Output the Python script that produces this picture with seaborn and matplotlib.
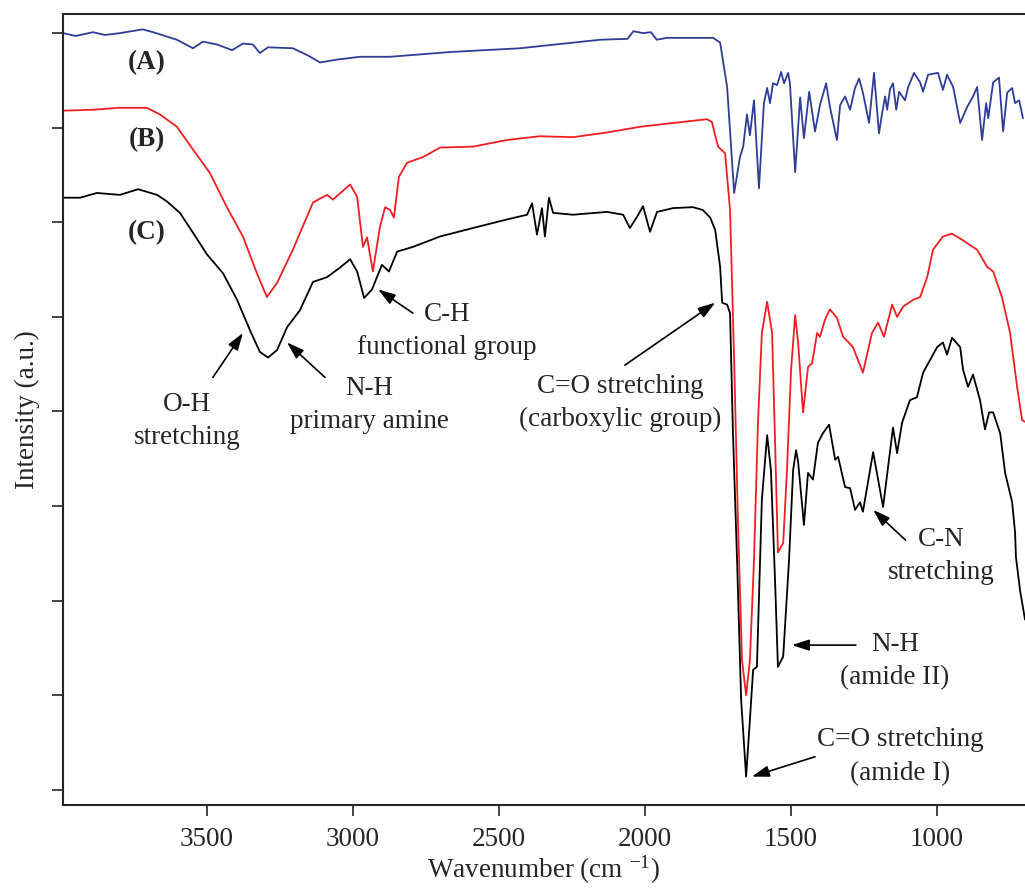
"""
FTIR spectra of samples (A), (B) and (C) with band assignments.
"""
import matplotlib
matplotlib.use("Agg")
import matplotlib.pyplot as plt
import seaborn as sns

sns.set_style("ticks")
plt.rcParams.update({
    "font.family": ["Liberation Serif", "DejaVu Serif"],
    "mathtext.fontset": "stix",
    "font.size": 19,
})

# ---- spectrum (A), blue
wn_a = [3993, 3950, 3890, 3850, 3798, 3720, 3685, 3603, 3548, 3514, 3466, 3414,
        3377, 3343, 3319, 3291, 3206, 3158, 3113, 3055, 2976, 2873, 2668, 2428,
        2154, 2060, 2040, 2007, 1980, 1960, 1925, 1767, 1743, 1719, 1695, 1675,
        1664, 1651, 1641, 1627, 1610, 1593, 1582, 1572, 1562, 1548, 1534, 1524,
        1510, 1504, 1486, 1469, 1456, 1438, 1418, 1401, 1380, 1367, 1343, 1332,
        1315, 1298, 1281, 1267, 1254, 1233, 1216, 1199, 1188, 1178, 1171, 1161,
        1151, 1140, 1130, 1110, 1099, 1079, 1058, 1048, 1031, 997, 980, 966, 945,
        921, 897, 877, 863, 846, 832, 825, 808, 788, 774, 760, 743, 733, 719, 706]
int_a = [80.0, 79.7, 80.1, 79.8, 80.0, 80.4, 80.1, 79.3, 78.4, 79.1, 78.8, 78.2,
         78.9, 78.8, 77.9, 78.5, 78.4, 77.7, 76.9, 77.2, 77.5, 77.5, 78.0, 78.4,
         79.3, 79.4, 80.2, 80.0, 80.1, 79.3, 79.5, 79.5, 79.0, 74.3, 63.1, 66.9,
         68.0, 71.4, 69.2, 72.9, 63.6, 72.6, 74.2, 72.6, 74.7, 74.5, 75.9, 74.7,
         75.8, 74.7, 65.3, 73.2, 68.9, 73.8, 69.6, 72.4, 74.7, 72.2, 68.7, 72.4,
         73.3, 71.9, 74.2, 75.2, 73.7, 70.5, 75.8, 69.4, 71.6, 73.3, 71.9, 74.1,
         74.7, 71.9, 73.8, 72.9, 74.3, 75.8, 74.8, 73.8, 75.6, 75.8, 74.0, 75.6,
         74.3, 70.5, 72.2, 73.3, 74.3, 68.7, 72.6, 71.0, 74.8, 75.3, 69.6, 73.7,
         74.2, 72.6, 72.9, 71.0]

# ---- spectrum (B), red
wn_b = [3993, 3890, 3805, 3706, 3661, 3603, 3548, 3490, 3432, 3377, 3329, 3295,
        3260, 3206, 3137, 3089, 3069, 3010, 2986, 2966, 2952, 2932, 2908, 2890,
        2873, 2860, 2843, 2815, 2760, 2702, 2589, 2473, 2360, 2247, 2130, 2017,
        1904, 1788, 1771, 1760, 1750, 1726, 1709, 1695, 1682, 1668, 1654, 1641,
        1627, 1613, 1600, 1582, 1565, 1555, 1545, 1527, 1514, 1500, 1486, 1476,
        1459, 1442, 1428, 1411, 1401, 1384, 1367, 1343, 1322, 1288, 1254, 1223,
        1202, 1182, 1154, 1137, 1116, 1082, 1058, 1034, 1014, 980, 949, 912, 863,
        829, 808, 778, 750, 726, 709, 699]
int_b = [71.8, 71.9, 72.1, 72.1, 71.4, 70.1, 67.7, 65.2, 61.6, 58.5, 54.6, 52.1,
         53.6, 57.1, 62.1, 62.9, 62.4, 64.0, 62.7, 57.4, 58.4, 54.8, 59.5, 61.6,
         61.3, 60.5, 64.8, 66.3, 66.9, 67.9, 68.0, 68.7, 69.1, 69.0, 69.5, 70.1,
         70.5, 70.9, 70.6, 69.2, 68.0, 67.3, 61.3, 45.5, 28.5, 13.7, 10.0, 13.7,
         24.3, 39.1, 48.3, 51.6, 48.3, 37.0, 25.1, 26.1, 33.8, 44.4, 50.2, 47.3,
         39.9, 44.7, 45.1, 48.3, 47.9, 49.7, 50.8, 49.9, 47.9, 46.8, 44.1, 48.3,
         49.4, 47.9, 51.3, 50.0, 51.1, 51.8, 52.1, 54.2, 57.1, 58.5, 58.8, 58.1,
         57.1, 55.3, 54.8, 52.1, 48.3, 42.6, 39.1, 38.9]

# ---- spectrum (C), black
wn_c = [3993, 3935, 3877, 3798, 3736, 3671, 3637, 3593, 3548, 3500, 3445, 3397,
        3353, 3319, 3291, 3260, 3226, 3182, 3137, 3089, 3045, 3010, 2986, 2962,
        2935, 2901, 2877, 2849, 2795, 2702, 2589, 2473, 2404, 2387, 2370, 2353,
        2343, 2329, 2315, 2247, 2130, 2075, 2052, 2027, 2007, 1983, 1959, 1904,
        1836, 1802, 1777, 1760, 1743, 1736, 1719, 1709, 1699, 1685, 1671, 1654,
        1641, 1630, 1617, 1600, 1582, 1569, 1555, 1545, 1527, 1507, 1493, 1483,
        1476, 1456, 1442, 1425, 1408, 1391, 1370, 1349, 1339, 1315, 1298, 1281,
        1264, 1254, 1219, 1185, 1168, 1151, 1137, 1120, 1093, 1069, 1048, 1000,
        980, 966, 949, 921, 911, 894, 877, 853, 836, 822, 808, 784, 767, 743,
        733, 730, 716, 699]
int_c = [62.6, 62.6, 63.1, 62.9, 63.5, 62.9, 62.2, 61.0, 58.9, 56.6, 54.6, 51.8,
         48.6, 46.3, 45.7, 46.5, 48.9, 50.7, 53.7, 54.2, 55.2, 56.1, 54.8, 52.0,
         52.9, 55.5, 54.8, 56.9, 57.4, 58.5, 59.4, 60.3, 60.8, 62.0, 58.7, 61.5,
         58.5, 62.6, 61.0, 60.8, 61.1, 60.8, 59.4, 60.6, 61.7, 59.0, 61.1, 61.5,
         61.6, 61.3, 60.5, 59.2, 55.3, 51.5, 51.3, 50.4, 37.7, 24.3, 9.5, 1.4,
         7.4, 12.7, 13.0, 30.7, 37.5, 33.8, 22.2, 13.0, 14.1, 24.3, 33.8, 35.9,
         34.7, 28.0, 33.5, 32.8, 36.7, 37.7, 38.6, 34.9, 35.2, 32.0, 31.9, 29.6,
         30.4, 29.4, 35.7, 29.9, 34.1, 38.3, 35.6, 38.8, 41.2, 41.5, 44.1, 46.8,
         47.3, 46.0, 47.8, 46.8, 44.4, 42.6, 43.9, 41.2, 38.1, 39.9, 39.9, 37.7,
         33.5, 30.4, 27.2, 24.6, 21.1, 18.0]

sample_labels = ["(A)", "(B)", "(C)"]
label_pos = [(3706, 76.9), (3706, 68.7), (3706, 58.9)]

# band assignments: text, text centre, arrow tail, arrow head
band_text = ["O-H\nstretching", "N-H\nprimary amine", "C-H\nfunctional group",
             "C=O stretching\n(carboxylic group)", "C-N\nstretching",
             "N-H\n(amide II)", "C=O stretching\n(amide I)"]
band_text_pos = [(3569, 39.0), (2945, 40.7), (2678, 48.5), (2086, 40.9),
                 (986, 24.7), (1144, 13.6), (1127, 3.5)]
band_tail = [(3480, 43.6), (3096, 43.6), (2795, 50.4), (2069, 44.9),
             (1108, 26.4), (1278, 15.3), (1418, 3.5)]
band_head = [(3377, 48.3), (3226, 47.3), (2914, 52.9), (1760, 51.5),
             (1219, 29.6), (1497, 15.3), (1634, 1.4)]

fig, ax = plt.subplots(figsize=(10.25, 8.88), dpi=100)
fig.subplots_adjust(left=0.0615, right=1.0, top=0.984, bottom=0.0935)

sns.lineplot(x=wn_a, y=int_a, color="#2e3d98", lw=1.3, ax=ax, sort=False, estimator=None)
sns.lineplot(x=wn_b, y=int_b, color="#f01e23", lw=1.3, ax=ax, sort=False, estimator=None)
sns.lineplot(x=wn_c, y=int_c, color="black", lw=1.3, ax=ax, sort=False, estimator=None)

for lab, (x, y) in zip(sample_labels, label_pos):
    ax.text(x, y, lab, fontsize=19.5, fontweight="bold", ha="center", va="center")

for txt, tpos, tail, head in zip(band_text, band_text_pos, band_tail, band_head):
    ax.text(tpos[0], tpos[1], txt, fontsize=19.5, ha="center", va="center",
            linespacing=1.45)
    ax.annotate("", xy=head, xytext=tail,
                arrowprops=dict(arrowstyle="-|>,head_length=0.55,head_width=0.18",
                                color="black", lw=1.2, shrinkA=0, shrinkB=0))

ax.set_xlim(3993, 699)
ax.set_ylim(-1.6, 82.0)
ax.set_xticks([3500, 3000, 2500, 2000, 1500, 1000])
ax.set_yticks(range(0, 81, 10))
ax.set_yticklabels([])
ax.tick_params(axis="both", direction="out", length=8, width=1.2, labelsize=19.5)
ax.tick_params(axis="x", pad=8)
for side in ["left", "bottom", "top"]:
    ax.spines[side].set_linewidth(1.5)
ax.spines["right"].set_visible(False)

ax.set_xlabel(r"Wavenumber (cm $^{\mathregular{-1}}$)", fontsize=19.5, labelpad=1)
ax.set_ylabel("Intensity (a.u.)", fontsize=19.5, labelpad=5)

fig.savefig("out.png", dpi=100)
